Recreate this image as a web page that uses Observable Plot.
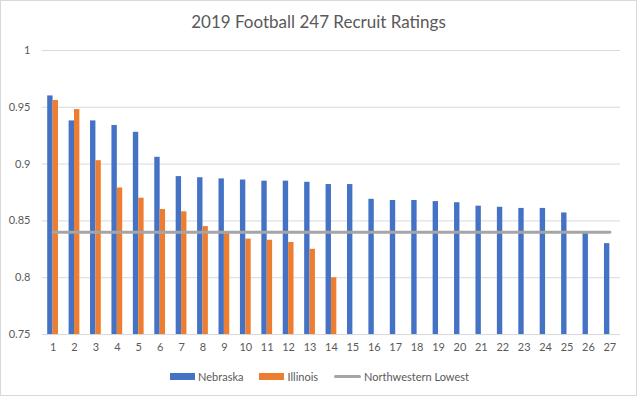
<!DOCTYPE html>
<html>
<head>
<meta charset="utf-8">
<script src="https://cdn.jsdelivr.net/npm/d3@7"></script>
<script src="https://cdn.jsdelivr.net/npm/@observablehq/plot@0.6"></script>
<style>
  html, body { margin: 0; padding: 0; background: #fff; }
  #wrap { position: relative; width: 635px; height: 394px; border: 1px solid #d9d9d9; overflow: hidden; font-family: Lato, "Open Sans", sans-serif; color: #595959; }
  #title { height: 36px; line-height: 42px; text-align: center; font-size: 17px; color: #595959; }
  #chart svg { display: block; margin-left: -1px; }
  #legend { display: flex; justify-content: center; align-items: center; font-size: 11px; color: #595959; margin-top: 9px; margin-left: 2px; }
  .item { display: flex; align-items: center; margin: 0 8px; }
  .sw { width: 25px; height: 7px; margin-right: 3px; }
  .ln { width: 27px; height: 3px; margin-right: 3px; border-radius: 1.5px; }
</style>
</head>
<body>
<div id="wrap">
  <div id="title">2019 Football 247 Recruit Ratings</div>
  <div id="chart"></div>
  <div id="legend"></div>
</div>
<script>
const categories = [1,2,3,4,5,6,7,8,9,10,11,12,13,14,15,16,17,18,19,20,21,22,23,24,25,26,27];
const nebraska = [0.960,0.938,0.938,0.934,0.928,0.906,0.889,0.888,0.887,0.886,0.885,0.885,0.884,0.882,0.882,0.869,0.868,0.868,0.867,0.866,0.863,0.862,0.861,0.861,0.857,0.839,0.830];
const illinois = [0.956,0.948,0.903,0.879,0.870,0.860,0.858,0.845,0.839,0.834,0.833,0.831,0.825,0.800];
const northwesternLowest = 0.84;
const yTicks = [0.75,0.8,0.85,0.9,0.95,1];
const seriesNames = ["Nebraska","Illinois","Northwestern Lowest"];
const colors = ["#4472c4","#ed7d31","#a5a5a5"];

const W = 637, ML = 42, MR = 15;
const bw = (W - ML - MR) / categories.length;
const barW = 5.4;

const neb = categories.map((c, i) => ({cat: c, v: nebraska[i]}));
const ill = illinois.map((v, i) => ({cat: categories[i], v}));
const nw = categories.map(c => ({cat: c, v: northwesternLowest}));

const plot = Plot.plot({
  width: W,
  height: 325,
  marginTop: 13,
  marginBottom: 27,
  marginLeft: ML,
  marginRight: MR,
  style: {fontFamily: "Lato, 'Open Sans', sans-serif", fontSize: "11px", color: "#595959", background: "transparent"},
  x: {domain: categories, padding: 0, round: false, tickSize: 0, tickPadding: 9, label: null},
  y: {domain: [0.75, 1], ticks: yTicks, tickSize: 0, tickPadding: 12, tickFormat: d => String(+d.toFixed(2)), label: null},
  marks: [
    Plot.ruleY(yTicks, {stroke: "#d9d9d9", strokeWidth: 1}),
    Plot.barY(neb, {x: "cat", y1: 0.75, y2: "v", fill: colors[0], insetLeft: bw/2 - barW, insetRight: bw/2}),
    Plot.barY(ill, {x: "cat", y1: 0.75, y2: "v", fill: colors[1], insetLeft: bw/2, insetRight: bw/2 - barW}),
    Plot.lineY(nw, {x: "cat", y: "v", stroke: colors[2], strokeWidth: 3})
  ]
});
document.getElementById("chart").appendChild(plot);

const legend = document.getElementById("legend");
seriesNames.forEach((n, i) => {
  const it = document.createElement("div");
  it.className = "item";
  const sw = document.createElement("div");
  sw.className = i === 2 ? "ln" : "sw";
  sw.style.background = colors[i];
  it.appendChild(sw);
  const t = document.createElement("span");
  t.textContent = n;
  it.appendChild(t);
  legend.appendChild(it);
});
</script>
</body>
</html>
